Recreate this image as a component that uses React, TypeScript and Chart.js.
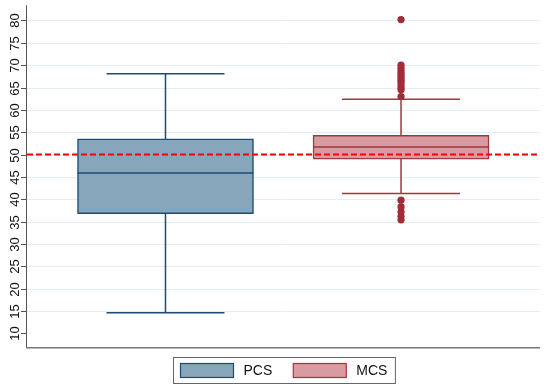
import React, { useEffect, useRef } from "react";
import { Chart, registerables } from "chart.js";

Chart.register(...registerables);

// ---- data ----
const categories = ["PCS", "MCS"];
const q1Values = [36.8, 49.0];
const medianValues = [45.9, 51.7];
const q3Values = [53.5, 54.3];
const whiskerLow = [14.6, 41.3];
const whiskerHigh = [68.1, 62.4];
const pcsOutliers: number[] = [];
const mcsOutliers = [80.2, 70.0, 69.3, 68.7, 68.2, 67.7, 67.2, 66.7, 66.2, 65.6, 65.0, 64.5, 63.0, 39.8, 38.3, 37.2, 36.2, 35.4];
const yTicks = [10, 15, 20, 25, 30, 35, 40, 45, 50, 55, 60, 65, 70, 75, 80];
const referenceValue = 50;

// ---- styles ----
const FONT = '"Liberation Sans", Arial, Helvetica, sans-serif';
const fills = ["#87a5bb", "#d89ba1"];
const borders = ["#1d4d73", "#a3353f"];
const dotColor = "#a12c37";
const BOX_W = 176;
const CAP_W = 118;

const boxPlugin = {
  id: "boxExtras",
  beforeDatasetsDraw(chart: any) {
    const { ctx, chartArea: a, scales } = chart;
    const y = scales.y;
    ctx.save();
    // gridlines
    ctx.strokeStyle = "#e4edf2";
    ctx.lineWidth = 1;
    yTicks.forEach((t) => {
      if (t === 10) return;
      const py = Math.round(y.getPixelForValue(t)) + 0.5;
      ctx.beginPath();
      ctx.moveTo(a.left, py);
      ctx.lineTo(a.right, py);
      ctx.stroke();
    });
    // y axis ticks & labels
    ctx.strokeStyle = "#555";
    ctx.fillStyle = "#111";
    ctx.font = `13px ${FONT}`;
    ctx.textAlign = "center";
    ctx.textBaseline = "middle";
    yTicks.forEach((t) => {
      const py = Math.round(y.getPixelForValue(t)) + 0.5;
      ctx.beginPath();
      ctx.moveTo(a.left - 6, py);
      ctx.lineTo(a.left, py);
      ctx.stroke();
      ctx.save();
      ctx.translate(a.left - 13, py);
      ctx.rotate(-Math.PI / 2);
      ctx.fillText(String(t), 0, 1);
      ctx.restore();
    });
    // axis lines
    ctx.strokeStyle = "#555";
    ctx.lineWidth = 1;
    ctx.beginPath();
    ctx.moveTo(a.left - 0.5, a.top);
    ctx.lineTo(a.left - 0.5, a.bottom);
    ctx.stroke();
    ctx.strokeStyle = "#777";
    ctx.lineWidth = 1.5;
    ctx.beginPath();
    ctx.moveTo(a.left - 1, a.bottom);
    ctx.lineTo(a.right, a.bottom);
    ctx.stroke();
    // whiskers
    categories.forEach((_, i) => {
      const px = chart.scales.x.getPixelForValue(i + 1);
      ctx.strokeStyle = borders[i];
      ctx.lineWidth = 1.5;
      const yq1 = y.getPixelForValue(q1Values[i]);
      const yq3 = y.getPixelForValue(q3Values[i]);
      const ylo = y.getPixelForValue(whiskerLow[i]);
      const yhi = y.getPixelForValue(whiskerHigh[i]);
      ctx.beginPath();
      ctx.moveTo(px, yq3);
      ctx.lineTo(px, yhi);
      ctx.moveTo(px, yq1);
      ctx.lineTo(px, ylo);
      ctx.moveTo(px - CAP_W / 2, yhi);
      ctx.lineTo(px + CAP_W / 2, yhi);
      ctx.moveTo(px - CAP_W / 2, ylo);
      ctx.lineTo(px + CAP_W / 2, ylo);
      ctx.stroke();
    });
    ctx.restore();
  },
  afterDatasetsDraw(chart: any) {
    const { ctx, chartArea: a, scales } = chart;
    const y = scales.y;
    ctx.save();
    categories.forEach((_, i) => {
      const px = chart.scales.x.getPixelForValue(i + 1);
      const ym = y.getPixelForValue(medianValues[i]);
      ctx.strokeStyle = borders[i];
      ctx.lineWidth = 1.5;
      ctx.beginPath();
      ctx.moveTo(px - BOX_W / 2, ym);
      ctx.lineTo(px + BOX_W / 2, ym);
      ctx.stroke();
    });
    // reference line
    const yr = y.getPixelForValue(referenceValue);
    ctx.strokeStyle = "#ff0000";
    ctx.lineWidth = 2;
    ctx.setLineDash([6, 3]);
    ctx.beginPath();
    ctx.moveTo(a.left, yr);
    ctx.lineTo(a.right, yr);
    ctx.stroke();
    ctx.setLineDash([]);
    ctx.restore();
  },
  afterDraw(chart: any) {
    const { ctx, chartArea: a } = chart;
    ctx.save();
    ctx.font = `14px ${FONT}`;
    const swW = 53, swH = 14, gapText = 10, gapItem = 21, padL = 7, padR = 8;
    const widths = categories.map((c) => ctx.measureText(c).width);
    let total = padL + padR;
    widths.forEach((w, i) => {
      total += swW + gapText + w + (i < widths.length - 1 ? gapItem : 0);
    });
    const cx = (a.left + a.right) / 2;
    const left = Math.round(cx - total / 2) + 0.5;
    const top = 357.5;
    const h = 26;
    ctx.strokeStyle = "#666";
    ctx.lineWidth = 1;
    ctx.fillStyle = "#fff";
    ctx.fillRect(left, top, total, h);
    ctx.strokeRect(left, top, total, h);
    let x = left + padL;
    categories.forEach((c, i) => {
      ctx.fillStyle = fills[i];
      ctx.fillRect(x, top + 6, swW, swH);
      ctx.strokeStyle = borders[i];
      ctx.lineWidth = 1.2;
      ctx.strokeRect(x, top + 6, swW, swH);
      x += swW + gapText;
      ctx.fillStyle = "#111";
      ctx.textAlign = "left";
      ctx.textBaseline = "middle";
      ctx.fillText(c, x, top + h / 2 + 0.5);
      x += widths[i] + gapItem;
    });
    ctx.restore();
  },
};

export default function App() {
  const ref = useRef<HTMLCanvasElement | null>(null);
  useEffect(() => {
    if (!ref.current) return;
    const chart = new Chart(ref.current, {
      type: "bar",
      data: {
        datasets: [
          {
            type: "bar",
            label: categories[0],
            data: [{ x: 1, y: [q1Values[0], q3Values[0]] }] as any,
            backgroundColor: fills[0],
            borderColor: borders[0],
            borderWidth: 1.5,
            borderSkipped: false,
            barThickness: BOX_W,
            grouped: false,
          } as any,
          {
            type: "bar",
            label: categories[1],
            data: [{ x: 2, y: [q1Values[1], q3Values[1]] }] as any,
            backgroundColor: fills[1],
            borderColor: borders[1],
            borderWidth: 1.5,
            borderSkipped: false,
            barThickness: BOX_W,
            grouped: false,
          } as any,
          {
            type: "scatter",
            label: "PCS outliers",
            data: pcsOutliers.map((v) => ({ x: 1, y: v })),
            backgroundColor: borders[0],
            borderWidth: 0,
            pointRadius: 3.6,
          } as any,
          {
            type: "scatter",
            label: "MCS outliers",
            data: mcsOutliers.map((v) => ({ x: 2, y: v })),
            backgroundColor: dotColor,
            borderWidth: 0,
            pointRadius: 3.6,
          } as any,
        ],
      },
      options: {
        animation: false,
        responsive: false,
        layout: { padding: { left: 27, right: 10, top: 5.3, bottom: 43.3 } },
        plugins: { legend: { display: false }, tooltip: { enabled: false } },
        scales: {
          x: { type: "linear", display: false, min: 0.412, max: 2.59, offset: false },
          y: { type: "linear", display: false, min: 6.8, max: 83.4 },
        },
      } as any,
      plugins: [boxPlugin],
    });
    return () => chart.destroy();
  }, []);
  return (
    <div style={{ position: "absolute", left: 0, top: 0, width: 550, height: 391, background: "#fff" }}>
      <canvas ref={ref} width={550} height={391} style={{ display: "block" }} />
    </div>
  );
}
